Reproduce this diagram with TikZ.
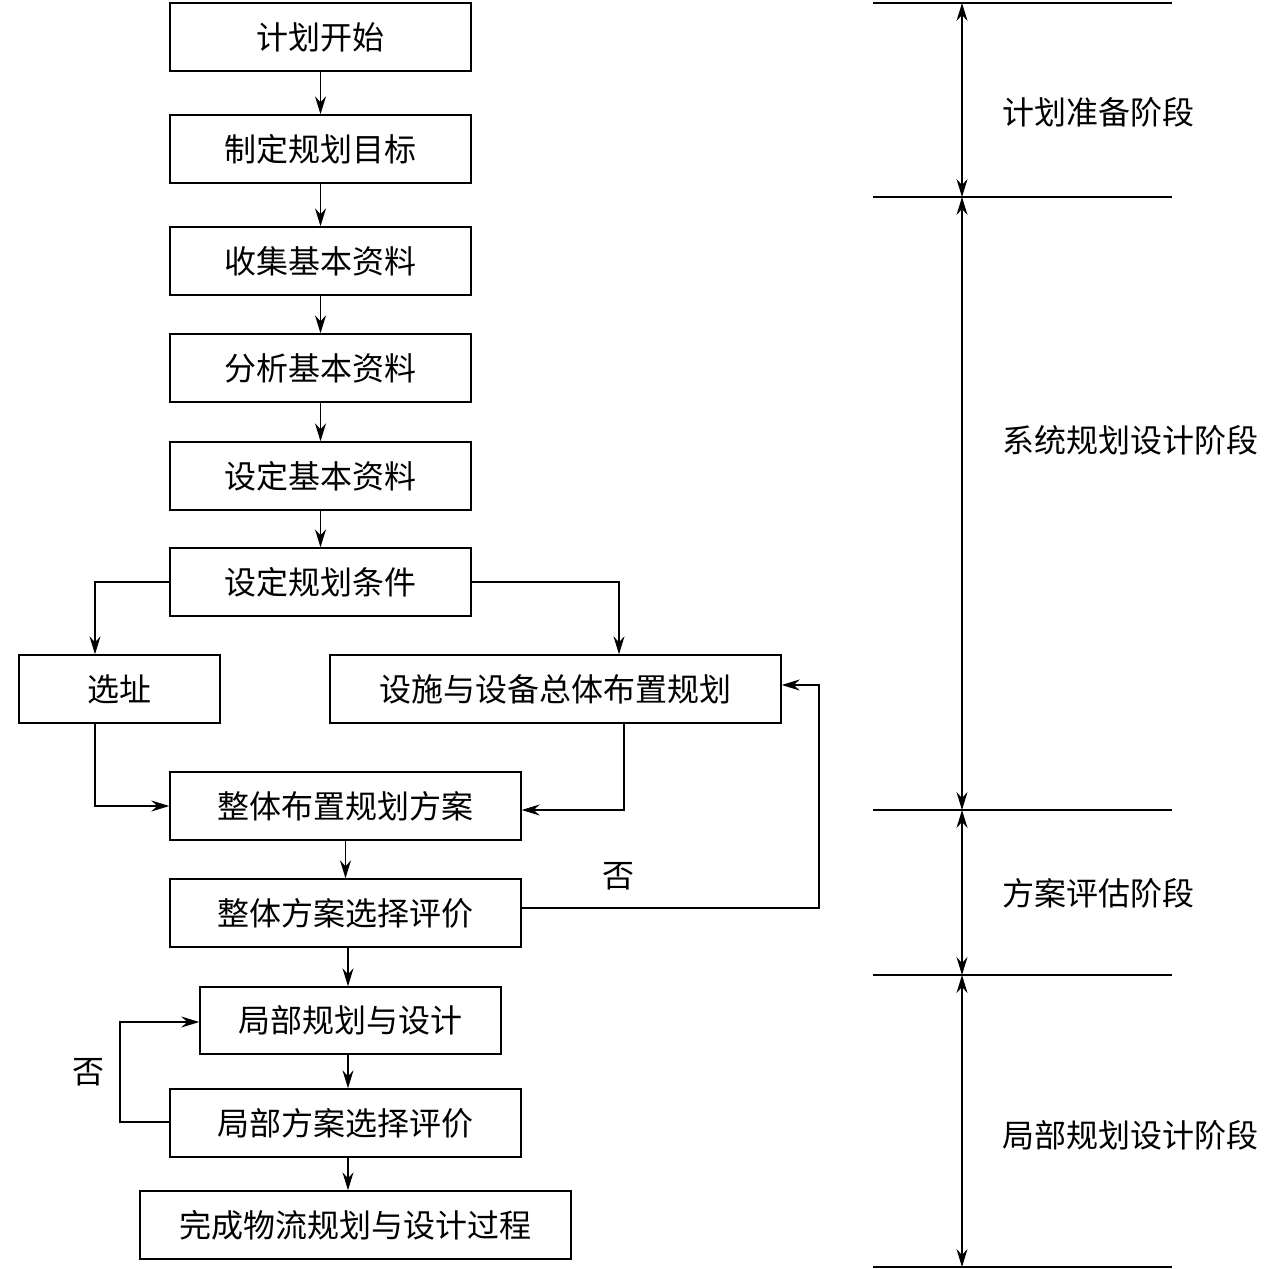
\documentclass[tikz,border=0pt]{standalone}
\usepackage{fontspec}
\newfontfamily\cjk{Noto Sans CJK SC}
\usetikzlibrary{arrows.meta}
\begin{document}
\begin{tikzpicture}[x=1pt,y=-1pt,
  box/.style={draw, line width=1.4pt, minimum height=68pt, inner sep=0pt, font=\cjk\fontsize{32}{38}\selectfont},
  lbl/.style={font=\cjk\fontsize{32}{38}\selectfont, inner sep=0pt},
  arr/.style={line width=1.3pt, -{Stealth[length=18pt,width=11pt,inset=6pt]}},
  dbl/.style={line width=1.3pt, {Stealth[length=18pt,width=11pt,inset=6pt]}-{Stealth[length=18pt,width=11pt,inset=6pt]}},
  hline/.style={line width=2.2pt}]
\useasboundingbox (0,0) rectangle (1265,1269);
% boxes
\node[box, minimum width=301pt] (b1) at (320.5,37) {计划开始};
\node[box, minimum width=301pt] (b2) at (320.5,149) {制定规划目标};
\node[box, minimum width=301pt] (b3) at (320.5,261) {收集基本资料};
\node[box, minimum width=301pt] (b4) at (320.5,368) {分析基本资料};
\node[box, minimum width=301pt] (b5) at (320.5,476) {设定基本资料};
\node[box, minimum width=301pt] (b6) at (320.5,582) {设定规划条件};
\node[box, minimum width=201pt] (b7) at (119.5,689) {选址};
\node[box, minimum width=451pt] (b8) at (555.5,689) {设施与设备总体布置规划};
\node[box, minimum width=351pt] (b9) at (345.5,806) {整体布置规划方案};
\node[box, minimum width=351pt] (b10) at (345.5,913) {整体方案选择评价};
\node[box, minimum width=301pt, minimum height=67pt] (b11) at (350.5,1020.5) {局部规划与设计};
\node[box, minimum width=351pt] (b12) at (345.5,1123) {局部方案选择评价};
\node[box, minimum width=431pt] (b13) at (355.5,1225) {完成物流规划与设计过程};
% straight arrows
\draw[arr] (b1.south) -- (b2.north);
\draw[arr] (b2.south) -- (b3.north);
\draw[arr] (b3.south) -- (b4.north);
\draw[arr] (b4.south) -- (b5.north);
\draw[arr] (b5.south) -- (b6.north);
\draw[arr] (b6.west) -| (b7.north -| 95,0);
\draw[arr] (b6.east) -| (b8.north -| 619,0);
\draw[arr] (b7.south -| 95,0) |- (b9.west);
\draw[arr] (b8.south -| 624,0) |- (b9.east |- 0,810);
\draw[arr] (b9.south) -- (b10.north);
\draw[arr] (b10.south -| 348,0) -- (b11.north -| 348,0);
\draw[arr] (b11.south -| 348,0) -- (b12.north -| 348,0);
\draw[arr] (b12.south -| 348,0) -- (b13.north -| 348,0);
% feedback loops
\coordinate (fb1) at (819,908);
\draw[arr] (b10.east |- fb1) -- (fb1) |- (b8.east |- 0,685);
\node[lbl] (no1) at (618,876) {否};
\coordinate (fb2) at (120,1122);
\draw[arr] (b12.west |- fb2) -- (fb2) |- (b11.west |- 0,1022);
\node[lbl] (no2) at (88,1072) {否};
% phase lines
\coordinate (l1a) at (873,3); \coordinate (l1b) at (1172,3);
\coordinate (l2a) at (873,197); \coordinate (l2b) at (1172,197);
\coordinate (l3a) at (873,810); \coordinate (l3b) at (1172,810);
\coordinate (l4a) at (873,975); \coordinate (l4b) at (1172,975);
\coordinate (l5a) at (873,1267); \coordinate (l5b) at (1172,1267);
\draw[hline] (l1a) -- (l1b);
\draw[hline] (l2a) -- (l2b);
\draw[hline] (l3a) -- (l3b);
\draw[hline] (l4a) -- (l4b);
\draw[hline] (l5a) -- (l5b);
\coordinate (p1) at (962,3);
\coordinate (p2) at (962,197);
\coordinate (p3) at (962,810);
\coordinate (p4) at (962,975);
\coordinate (p5) at (962,1267);
\draw[dbl] (p1) -- (p2);
\draw[dbl] (p2) -- (p3);
\draw[dbl] (p3) -- (p4);
\draw[dbl] (p4) -- (p5);
\node[lbl, anchor=west] (s1) at (1002,112) {计划准备阶段};
\node[lbl, anchor=west] (s2) at (1002,440) {系统规划设计阶段};
\node[lbl, anchor=west] (s3) at (1002,893) {方案评估阶段};
\node[lbl, anchor=west] (s4) at (1002,1135) {局部规划设计阶段};
\end{tikzpicture}
\end{document}
